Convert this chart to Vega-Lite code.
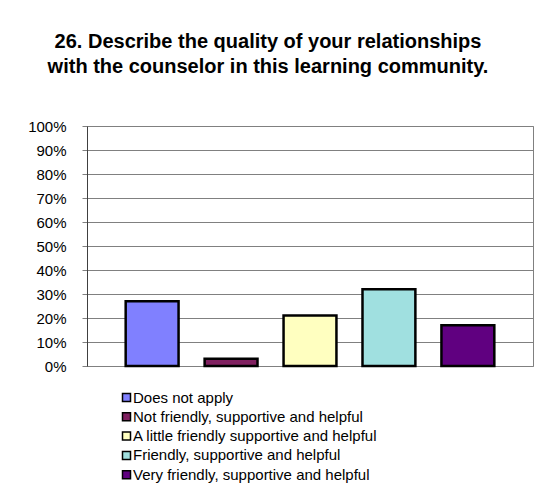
{
  "$schema": "https://vega.github.io/schema/vega-lite/v6.json",
  "width": 446,
  "height": 240,
  "autosize": {"type": "none"},
  "padding": {"left": 87, "top": 126, "right": 18, "bottom": 123},
  "background": "white",
  "title": {
    "text": ["26. Describe the quality of your relationships", "with the counselor in this learning community."],
    "font": "Liberation Sans",
    "fontSize": 20,
    "fontWeight": "bold",
    "color": "black",
    "anchor": "middle",
    "dx": -42,
    "offset": 42,
    "lineHeight": 25
  },
  "data": {
    "values": [
      {"category": "Does not apply", "order": 1, "value": 0.27},
      {"category": "Not friendly, supportive and helpful", "order": 2, "value": 0.03},
      {"category": "A little friendly supportive and helpful", "order": 3, "value": 0.21},
      {"category": "Friendly, supportive and helpful", "order": 4, "value": 0.32},
      {"category": "Very friendly, supportive and helpful", "order": 5, "value": 0.17}
    ]
  },
  "mark": {"type": "bar", "stroke": "black", "strokeWidth": 2.5},
  "encoding": {
    "x": {
      "field": "category",
      "type": "nominal",
      "sort": {"field": "order"},
      "scale": {"paddingInner": 0.33, "paddingOuter": 0.49},
      "axis": null
    },
    "y": {
      "field": "value",
      "type": "quantitative",
      "scale": {"domain": [0, 1]},
      "axis": {
        "title": null,
        "format": ".0%",
        "values": [0, 0.1, 0.2, 0.3, 0.4, 0.5, 0.6, 0.7, 0.8, 0.9, 1],
        "labelFont": "Liberation Sans",
        "labelFontSize": 15,
        "labelColor": "black",
        "labelPadding": 16,
        "tickSize": 5,
        "tickColor": "#808080",
        "domainColor": "#404040",
        "gridColor": "#808080",
        "gridWidth": 1
      }
    },
    "color": {
      "field": "category",
      "type": "nominal",
      "scale": {
        "domain": ["Does not apply", "Not friendly, supportive and helpful", "A little friendly supportive and helpful", "Friendly, supportive and helpful", "Very friendly, supportive and helpful"],
        "range": ["#8080FF", "#802060", "#FFFFC0", "#A0E0E0", "#600080"]
      },
      "legend": {
        "title": null,
        "orient": "none",
        "legendX": 32,
        "legendY": 264,
        "direction": "vertical",
        "padding": 0,
        "symbolType": "square",
        "symbolSize": 64,
        "symbolStrokeColor": "black",
        "symbolStrokeWidth": 1.5,
        "symbolOpacity": 1,
        "labelFont": "Liberation Sans",
        "labelFontSize": 15,
        "labelColor": "black",
        "labelOffset": -1,
        "rowPadding": 3.3,
        "labelLimit": 400
      }
    }
  },
  "config": {
    "font": "Liberation Sans",
    "view": {"stroke": "#808080", "strokeWidth": 1}
  }
}
